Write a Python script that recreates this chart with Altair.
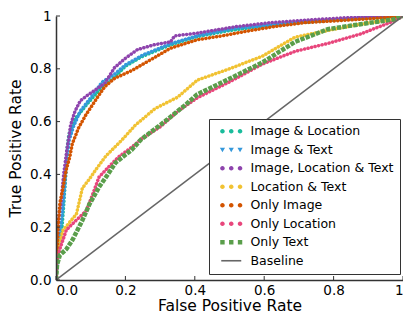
import altair as alt
import pandas as pd

series_names = ["Image & Location", "Image & Text", "Image, Location & Text",
                "Location & Text", "Only Image", "Only Location", "Only Text"]
series_colors = ["#1abc9c", "#3498db", "#8e44ad", "#f1c232", "#d35400", "#e8467c", "#5a9e4b"]
baseline_name = "Baseline"
baseline_color = "#666666"

img_loc_fpr = [0, 0.003, 0.008, 0.016, 0.022, 0.028, 0.031, 0.037, 0.056, 0.094, 0.133, 0.169, 0.2, 0.246, 0.33, 0.407, 0.5, 0.6, 0.7, 0.8, 0.9, 1]
img_loc_tpr = [0, 0.06, 0.13, 0.175, 0.28, 0.4, 0.49, 0.551, 0.612, 0.673, 0.732, 0.768, 0.81, 0.845, 0.891, 0.922, 0.945, 0.962, 0.975, 0.985, 0.993, 1]

img_txt_fpr = [0, 0.004, 0.01, 0.018, 0.025, 0.03, 0.038, 0.05, 0.07, 0.1, 0.133, 0.169, 0.2, 0.25, 0.33, 0.407, 0.52, 0.6, 0.7, 0.8, 0.9, 1]
img_txt_tpr = [0, 0.09, 0.17, 0.25, 0.35, 0.44, 0.53, 0.58, 0.64, 0.69, 0.75, 0.78, 0.815, 0.852, 0.895, 0.925, 0.955, 0.963, 0.975, 0.985, 0.993, 1]

img_loc_txt_fpr = [0, 0.003, 0.006, 0.015, 0.022, 0.031, 0.037, 0.042, 0.055, 0.07, 0.094, 0.122, 0.141, 0.169, 0.2, 0.235, 0.283, 0.33, 0.342, 0.407, 0.52, 0.62, 0.737, 0.83, 0.92, 1]
img_loc_txt_tpr = [0, 0.08, 0.22, 0.3, 0.4, 0.49, 0.54, 0.587, 0.64, 0.679, 0.703, 0.728, 0.746, 0.805, 0.84, 0.873, 0.891, 0.902, 0.925, 0.935, 0.96, 0.975, 0.986, 0.993, 0.997, 1]

loc_txt_fpr = [0, 0.003, 0.02, 0.04, 0.059, 0.076, 0.095, 0.116, 0.144, 0.189, 0.229, 0.285, 0.35, 0.407, 0.5, 0.595, 0.689, 0.783, 0.878, 0.972, 1]
loc_txt_tpr = [0, 0.105, 0.188, 0.22, 0.25, 0.348, 0.38, 0.42, 0.47, 0.529, 0.587, 0.649, 0.692, 0.757, 0.8, 0.848, 0.92, 0.945, 0.969, 0.987, 1]

only_img_fpr = [0, 0.003, 0.006, 0.011, 0.02, 0.03, 0.04, 0.047, 0.065, 0.085, 0.122, 0.141, 0.169, 0.218, 0.283, 0.33, 0.407, 0.48, 0.548, 0.63, 0.718, 0.81, 0.944, 1]
only_img_tpr = [0, 0.1, 0.2, 0.29, 0.348, 0.42, 0.467, 0.516, 0.576, 0.623, 0.697, 0.733, 0.764, 0.793, 0.842, 0.878, 0.91, 0.925, 0.942, 0.96, 0.975, 0.982, 0.993, 1]

only_loc_fpr = [0, 0.002, 0.011, 0.03, 0.058, 0.087, 0.105, 0.124, 0.153, 0.181, 0.218, 0.246, 0.3, 0.35, 0.407, 0.501, 0.595, 0.689, 0.783, 0.878, 0.972, 1]
only_loc_tpr = [0, 0.069, 0.117, 0.19, 0.226, 0.262, 0.322, 0.39, 0.43, 0.467, 0.503, 0.534, 0.58, 0.638, 0.69, 0.751, 0.818, 0.866, 0.896, 0.932, 0.98, 1]

only_txt_fpr = [0, 0.001, 0.003, 0.011, 0.03, 0.048, 0.076, 0.096, 0.124, 0.153, 0.172, 0.218, 0.246, 0.314, 0.37, 0.407, 0.501, 0.595, 0.689, 0.783, 0.878, 0.972, 1]
only_txt_tpr = [0, 0.02, 0.058, 0.094, 0.117, 0.153, 0.226, 0.286, 0.352, 0.407, 0.445, 0.493, 0.533, 0.601, 0.66, 0.703, 0.763, 0.824, 0.902, 0.95, 0.969, 0.987, 1]

baseline_fpr = [0, 1]
baseline_tpr = [0, 1]

tick_values = [0, 0.2, 0.4, 0.6, 0.8, 1]

all_fpr = [img_loc_fpr, img_txt_fpr, img_loc_txt_fpr, loc_txt_fpr, only_img_fpr, only_loc_fpr, only_txt_fpr]
all_tpr = [img_loc_tpr, img_txt_tpr, img_loc_txt_tpr, loc_txt_tpr, only_img_tpr, only_loc_tpr, only_txt_tpr]

rows = []
for name, fx, fy in zip(series_names, all_fpr, all_tpr):
    for i, (a, b) in enumerate(zip(fx, fy)):
        rows.append({"series": name, "fpr": a, "tpr": b, "i": i})
df = pd.DataFrame(rows)

FONT = "DejaVu Sans"
W, H = 347, 264
legend_names = series_names + [baseline_name]
color_scale = alt.Scale(domain=legend_names, range=series_colors + [baseline_color])


def dots(r):
    cs = [-4.4, 0, 4.4]
    return " ".join(f"M{c - r},0 a{r},{r} 0 1,0 {2 * r},0 a{r},{r} 0 1,0 {-2 * r},0" for c in cs)


def tris():
    cs = [-4.4, 0, 4.4]
    return " ".join(f"M{c - 1.3},-1 L{c + 1.3},-1 L{c},1.2 Z" for c in cs)


def squares():
    cs = [-4.4, 0, 4.4]
    return " ".join(f"M{c - 1.1},-1.1 L{c + 1.1},-1.1 L{c + 1.1},1.1 L{c - 1.1},1.1 Z" for c in cs)


line_path = "M-5,-0.4 L5,-0.4 L5,0.4 L-5,0.4 Z"
shape_range = [dots(1.15), tris(), dots(1.15), dots(1.15), dots(1.15), dots(1.15), squares(), line_path]
shape_scale = alt.Scale(domain=legend_names, range=shape_range)

label_expr = "datum.value == 1 ? '1' : format(datum.value, '.1f')"
x_axis = alt.Axis(title="False Positive Rate", values=tick_values, labelExpr=label_expr,
                  ticks=False, tickSize=0, grid=False, labelPadding=3, titlePadding=2,
                  domainColor="#333333", domainWidth=1.5, zindex=1)
y_axis = alt.Axis(title="True Positive Rate", values=tick_values, labelExpr=label_expr,
                  ticks=False, tickSize=0, grid=False, labelPadding=5, titlePadding=6,
                  domainColor="#333333", domainWidth=1.5, zindex=1)

X = alt.X("fpr:Q", scale=alt.Scale(domain=[0, 1], nice=False, zero=False), axis=x_axis)
Y = alt.Y("tpr:Q", scale=alt.Scale(domain=[0, 1], nice=False, zero=False), axis=y_axis)

layers = []
for k, name in enumerate(series_names):
    if name == "Only Text":
        style = dict(strokeDash=[4.3, 1.2], strokeWidth=4.5, strokeCap="butt")
    else:
        style = dict(strokeDash=[0.1, 3.5], strokeWidth=3.5, strokeCap="round")
    layers.append(
        alt.Chart(df).transform_filter(alt.datum.series == name)
        .mark_line(clip=True, color=series_colors[k], **style)
        .encode(x=X, y=Y, order="i:Q")
    )

base_df = pd.DataFrame({"fpr": baseline_fpr, "tpr": baseline_tpr})
layers.append(alt.Chart(base_df).mark_line(color=baseline_color, strokeWidth=1.5, clip=True)
              .encode(x=X, y=Y))

xt_df = pd.DataFrame({"fpr": tick_values})
yt_df = pd.DataFrame({"tpr": tick_values})
layers.append(alt.Chart(xt_df).mark_rule(color="#333333", strokeWidth=1)
              .encode(x=X, y=alt.value(H), y2=alt.value(H - 4)))
layers.append(alt.Chart(yt_df).mark_rule(color="#333333", strokeWidth=1)
              .encode(y=Y, x=alt.value(0), x2=alt.value(4)))

legend_def = alt.Legend(title=None, orient="none", legendX=153, legendY=103,
                        padding=6, strokeColor="#333333", fillColor="white",
                        labelFont=FONT, labelFontSize=12.5, labelColor="black",
                        symbolSize=16, symbolOffset=10, labelOffset=13, rowPadding=5.5,
                        symbolStrokeWidth=0, labelLimit=300, cornerRadius=0)
leg_df = pd.DataFrame({"series": legend_names, "fpr": [None] * 8, "tpr": [None] * 8})
layers.append(alt.Chart(leg_df).mark_point(filled=True, opacity=1, size=16, clip=True)
              .encode(x=X, y=Y,
                      color=alt.Color("series:N", scale=color_scale, legend=legend_def),
                      shape=alt.Shape("series:N", scale=shape_scale, legend=legend_def)))

chart = alt.layer(*layers).properties(
    width=W, height=H,
    autosize=alt.AutoSizeParams(type="none"),
    padding={"left": 48, "top": 8, "right": 0, "bottom": 38},
    background="white",
).configure_view(stroke=None).configure_axis(
    labelFont=FONT, labelFontSize=13.5, labelColor="black",
    titleFont=FONT, titleFontSize=15.5, titleColor="black", titleFontWeight="normal",
)

chart.save("out.html", embed_options={"renderer": "svg", "actions": False})
